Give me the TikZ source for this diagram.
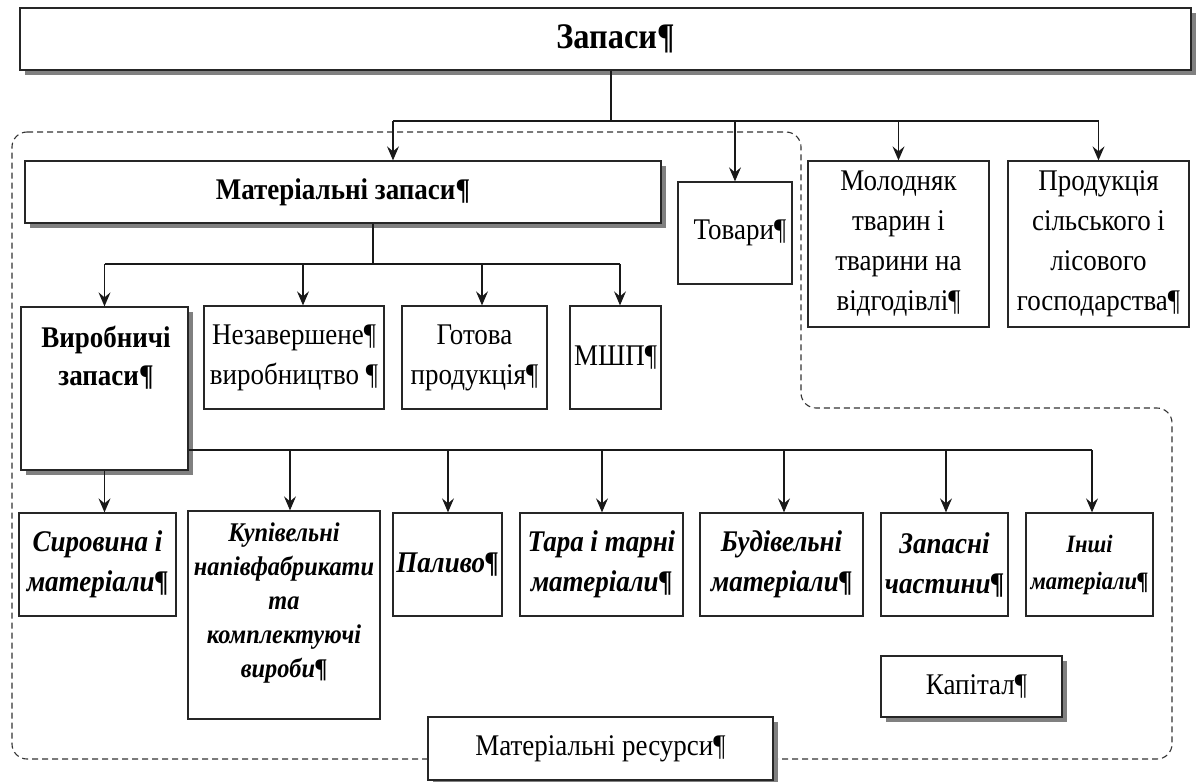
\documentclass[tikz,border=0pt]{standalone}
\usepackage{fontspec}
\setmainfont{Liberation Serif}[FakeStretch=0.9]
\usetikzlibrary{arrows.meta,shadows}
\newcommand\fReg{\fontsize{30}{40}\selectfont}
\newcommand\fTitle{\fontsize{36}{40}\selectfont\bfseries}
\newcommand\fBold{\fontsize{30}{38}\selectfont\bfseries}
\newcommand\fBI{\fontsize{30}{40}\selectfont\bfseries\itshape}
\newcommand\fBIs{\fontsize{27}{34}\selectfont\bfseries\itshape}
\newcommand\fBIt{\fontsize{25}{37}\selectfont\bfseries\itshape}
\begin{document}
\begin{tikzpicture}[x=1pt,y=-1pt,
  box/.style={draw=black!85, line width=1.3pt, fill=white, inner sep=0pt, align=center, font=\fReg},
  shbox/.style={box, drop shadow={shadow xshift=5pt, shadow yshift=-5pt, fill=black!50, opacity=1}},
  txt/.style={inner sep=0pt, align=center},
  conn/.style={line width=1.2pt, draw=black!90},
  arr/.style={conn, -{Stealth[length=14pt,width=12pt,inset=5pt]}},
  region/.style={line width=1.1pt, draw=black!80, dash pattern=on 6pt off 4pt, rounded corners=15pt}]
\fill[white] (0,0) rectangle (1203,782);
\useasboundingbox (0,0) rectangle (1203,782);

% dashed region
\draw[region] (12,132) -- (801,132) -- (801,408) -- (1172,408) -- (1172,759) -- (12,759) -- cycle;

% top
\node[shbox, font=\fTitle, minimum width=1171pt, minimum height=62pt] (zap) at (605.5,39) {\hspace*{20pt}Запаси¶};
\node[shbox, font=\fBold, minimum width=636pt, minimum height=62pt] (matzap) at (343,192) {Матеріальні запаси¶};
\node[box, minimum width=114pt, minimum height=102pt] (tovary) at (735,233) {\hspace*{10pt}Товари¶};
\node[box, minimum width=181pt, minimum height=166pt] (molod) at (898.5,244) {Молодняк\\тварин і\\тварини на\\відгодівлі¶};
\node[box, minimum width=181pt, minimum height=166pt] (prod) at (1098.5,244) {Продукція\\сільського і\\лісового\\господарства¶};

% second level
\node[shbox, minimum width=167pt, minimum height=163pt] (vyrob) at (104.5,388.5) {};
\node[txt, font=\fBold] (vyrobT) at (106,358) {Виробничі\\запаси¶};
\node[box, minimum width=180pt, minimum height=103pt] (nezav) at (294,357.5) {Незавершене¶\\виробництво ¶};
\node[box, minimum width=145pt, minimum height=103pt] (gotova) at (474.5,357.5) {Готова\\продукція¶};
\node[box, minimum width=91pt, minimum height=103pt] (mshp) at (615.5,357.5) {МШП¶};

% third level
\node[box, font=\fBI, minimum width=157pt, minimum height=103pt] (syr) at (97.5,564.5) {Сировина і\\матеріали¶};
\node[box, minimum width=192pt, minimum height=208pt] (kupiv) at (284,615) {};
\node[txt, font=\fBIs] (kupivT) at (284,603) {Купівельні\\напівфабрикати\\та\\комплектуючі\\вироби¶};
\node[box, font=\fBI, minimum width=109pt, minimum height=103pt] (palyvo) at (447.5,564.5) {Паливо¶};
\node[box, font=\fBI, minimum width=163pt, minimum height=103pt] (tara) at (601.5,564.5) {Тара і тарні\\матеріали¶};
\node[box, font=\fBI, minimum width=163pt, minimum height=103pt] (budiv) at (781.5,564.5) {Будівельні\\матеріали¶};
\node[box, font=\fBI, minimum width=127pt, minimum height=103pt] (zapasni) at (944.5,564.5) {Запасні\\частини¶};
\node[box, font=\fBIt, minimum width=127pt, minimum height=103pt] (inshi) at (1089.5,564.5) {Інші\\матеріали¶};

% other
\node[shbox, minimum width=181pt, minimum height=61pt] (kapital) at (971.5,686.5) {\hspace*{10pt}Капітал¶};
\node[shbox, minimum width=345pt, minimum height=63pt] (matres) at (600.5,748.5) {Матеріальні ресурси¶};

% connectors level 1
\coordinate (t0) at (611,121);
\coordinate (t1) at (393,121);
\coordinate (t4) at (1098.5,121);
\draw[conn] (zap.south -| t0) -- (t0);
\draw[conn] (t1) -- (t4);
\draw[arr] (t1) -- (t1 |- matzap.north);
\draw[arr] (tovary.north |- t1) -- (tovary.north);
\draw[arr] (molod.north |- t1) -- (molod.north);
\draw[arr] (prod.north |- t1) -- (prod.north);

% connectors level 2
\coordinate (m0) at (373,264);
\coordinate (m1) at (104.5,264);
\coordinate (m2) at (303,264);
\coordinate (m3) at (482,264);
\coordinate (m4) at (620,264);
\draw[conn] (matzap.south -| m0) -- (m0);
\draw[conn] (m1) -- (m4);
\draw[arr] (m1) -- (m1 |- vyrob.north);
\draw[arr] (m2) -- (m2 |- nezav.north);
\draw[arr] (m3) -- (m3 |- gotova.north);
\draw[arr] (m4) -- (m4 |- mshp.north);

% connectors level 3
\draw[arr] (vyrob.south) -- (vyrob.south |- syr.north);
\coordinate (v1) at (290,450);
\coordinate (v2) at (448,450);
\coordinate (v3) at (602,450);
\coordinate (v4) at (784,450);
\coordinate (v5) at (946,450);
\coordinate (v6) at (1092,450);
\draw[conn] (vyrob.east |- v6) -- (v6);
\draw[arr] (v1) -- (v1 |- kupiv.north);
\draw[arr] (v2) -- (v2 |- palyvo.north);
\draw[arr] (v3) -- (v3 |- tara.north);
\draw[arr] (v4) -- (v4 |- budiv.north);
\draw[arr] (v5) -- (v5 |- zapasni.north);
\draw[arr] (v6) -- (v6 |- inshi.north);
\end{tikzpicture}
\end{document}
